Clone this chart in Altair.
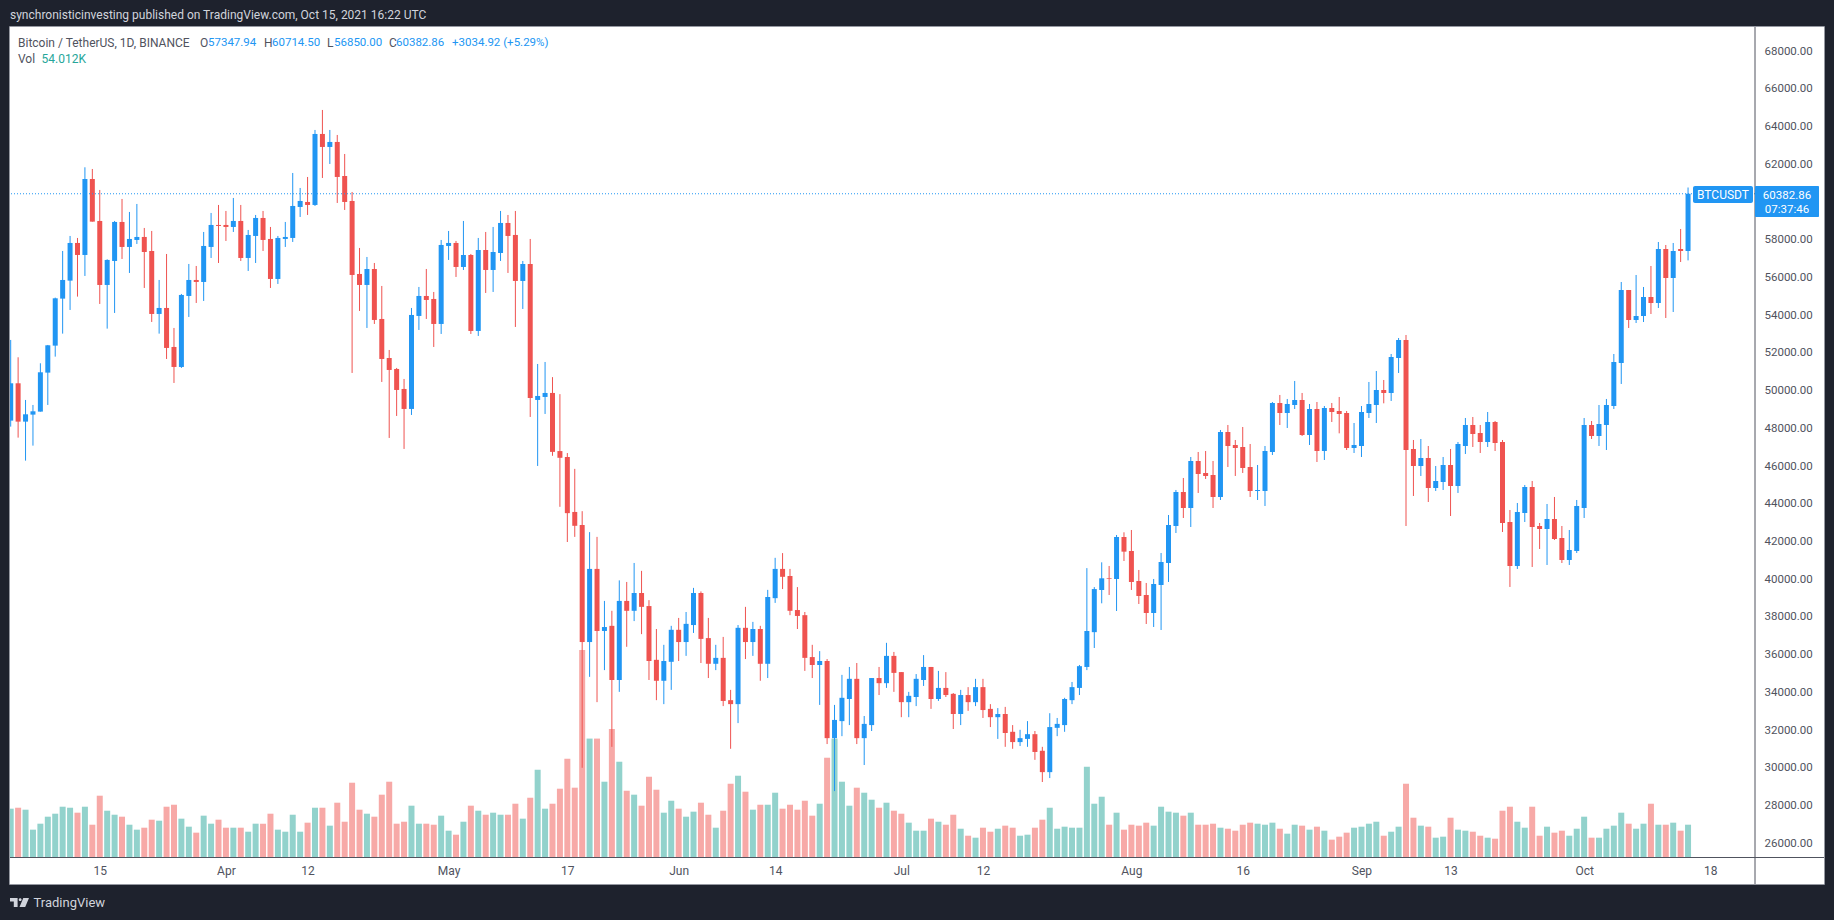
import altair as alt
import pandas as pd

open_ = [48356,50336,48303,48675,48834,50901,52332,54824,55778,57775,
57138,61167,58941,55548,56820,58888,57563,57934,58093,57350,
54011,54329,52262,51201,54965,55813,55707,57563,58729,58729,
58623,58941,56979,58146,59100,57987,55866,57987,58040,59683,
59948,59789,63553,62864,63129,61326,60001,56131,55548,56396,
53746,51678,51095,50035,48975,53905,54965,54806,53481,57616,
57775,56502,57138,53110,57403,56343,57244,58835,58199,55760,
56661,49452,49611,49824,46743,46428,43515,42823,36619,40496,
37206,37478,34607,38799,38275,39218,38526,35676,34565,35571,
37268,36619,37520,39218,36828,35466,35780,33538,33328,37373,
36619,37310,35466,38945,40496,40119,38316,38044,35822,35403,
35613,31525,32427,33600,34669,31525,32217,34711,34439,35885,
35026,33433,33705,34607,35298,33600,34187,33873,32804,33810,
33433,34229,33076,32636,32804,31861,31316,31484,31735,30855,
29723,32071,32217,33538,34187,35298,37143,39379,39997,39962,
42188,41446,39856,39114,38159,39644,40810,42771,44574,43725,
46217,45581,45475,44309,47754,47065,46959,45899,44627,44627,
46694,49291,48761,49185,49450,47595,48973,46747,49026,48867,
48761,46906,47012,48761,49185,49981,49822,51677,52631,46853,
45952,46376,44786,45104,46005,44892,47012,48125,47701,47224,
48284,47224,42983,40651,43460,44839,42771,42612,43142,42135,
40969,41446,43725,48125,47542,48125,49132,51412,55282,53691,
53903,54911,54592,57455,55918,57455,57347.94]

high = [52633,51714,49452,49187,51396,52368,54877,57350,58146,58040,
61786,61697,60584,56909,58941,60107,59418,59842,58570,58411,
55813,57191,53269,55071,56661,56555,58358,59365,59789,59471,
60160,59789,58464,59259,59471,58623,58146,58888,61485,60690,
61273,63765,64825,63765,63500,62492,60478,57510,57032,56714,
55495,52102,51149,50565,54329,55442,56396,55177,57934,58411,
57881,58941,57191,58040,58358,58623,59471,59259,59471,56820,
57987,51360,51466,50662,49761,46638,45799,43556,42446,42194,
38799,38275,39888,39805,40811,40392,38840,37310,36472,37478,
37897,38212,39490,39302,37897,36472,36891,34083,37520,38484,
37688,37478,39385,41083,41335,40496,39532,38212,36472,36137,
35717,33286,34879,35298,35508,32699,34711,35298,36577,36095,
35026,33978,34921,35927,35298,35089,35026,33915,34083,34229,
34669,34669,33328,33118,33181,32217,31966,32427,31903,31064,
32846,32594,33663,34502,35403,40538,39532,40845,40651,42294,
42436,42559,40439,39750,39962,41340,43354,44680,45316,46429,
46694,46747,46217,47860,48125,47330,48019,47118,46005,47012,
49344,49716,49504,50458,49822,49238,49344,49132,49291,49610,
48867,48231,49132,50405,50988,50511,51889,52737,52896,47330,
47383,47012,45952,46429,46853,47224,48496,48549,48125,48814,
48337,47330,43619,43990,44945,45157,42930,43937,44309,42771,
42559,44149,48496,48337,49185,49504,51889,55706,55282,56077,
55441,56554,57826,57667,57773,58515,60714.5]

low = [48038,47455,46236,47031,48834,49187,51749,52968,54223,54930,
56025,58905,54541,53233,54064,56926,56184,57722,55389,53587,
52968,51625,50353,51149,53852,54594,54700,56979,56714,57881,
58358,56820,56290,56714,57350,55389,55601,57563,57828,59153,
59259,59736,61220,61962,59895,59524,50883,54170,53269,53481,
50406,47438,48604,46855,48657,53163,53746,52262,52951,56874,
55972,56343,52951,52845,55124,55177,56820,56184,53322,54276,
48551,45953,48710,46491,43787,41922,42194,29953,34774,33433,
35131,31064,33978,36367,37730,37038,34607,33538,33328,34083,
35613,35885,37101,35508,34711,35131,33223,30960,32322,35717,
35885,34565,34711,38694,39427,38044,37310,35089,34711,33286,
31211,28717,31630,32217,31211,30100,31903,33810,34187,33978,
32636,32636,33223,34292,33076,33496,33705,32008,32217,32972,
33223,32594,32112,31484,31064,30960,31106,31064,30373,29199,
29408,31630,31861,33328,33810,35131,36304,38672,39114,38265,
40916,39379,38636,37576,37417,37258,39803,42400,43195,42718,
44521,45263,43725,44149,45899,45422,45581,44309,44149,43831,
46535,48125,47966,48973,47542,47065,46164,46270,48284,47683,
46800,46641,46429,48496,48231,49274,49397,50882,42771,44362,
45422,44043,44627,44680,43301,44521,46588,46959,46641,46959,
46747,42453,39538,40492,42983,40598,41552,40704,42029,40810,
40704,41340,43195,47383,47012,46800,48973,50299,53267,53532,
53585,54009,54327,53797,54115,56766,56850]

close = [50336,48303,48692,48851,50919,52350,54841,55813,57775,57138,
61167,58905,55548,56874,58888,57563,57987,58093,57297,54011,
54329,52209,51201,55018,55813,55707,57616,58729,58676,58623,
58941,56979,58199,59100,57934,55866,58040,58093,59736,60001,
59789,63553,62864,63129,61273,59948,56078,55548,56396,53693,
51625,51042,49982,48975,53958,54965,54753,53481,57669,57775,
56502,57138,53110,57403,56343,57297,58835,58146,55760,56661,
49558,49664,49823,46700,46386,43452,42781,36619,40496,37206,
37415,34607,38799,38275,39218,38484,35613,34565,35613,37268,
36619,37583,39218,36786,35466,35780,33496,33328,37373,36619,
37310,35466,39008,40496,40077,38275,38002,35780,35403,35613,
31525,32490,33663,34669,31525,32280,34711,34439,35885,34984,
33433,33768,34669,35298,33600,34187,33810,32804,33810,33433,
34229,33014,32636,32804,31798,31316,31525,31735,30792,29723,
32112,32280,33600,34229,35340,37206,39427,39997,39962,42188,
41411,39803,39061,38159,39697,40863,42824,44574,43725,46217,
45528,45422,44309,47754,47012,46906,45846,44627,44680,46747,
49291,48761,49238,49450,47595,48973,46747,49026,48814,48708,
46906,47065,48814,49238,49981,49822,51730,52631,46800,45952,
46376,44786,45157,46005,44892,47118,48125,47648,47224,48284,
47171,42930,40651,43513,44839,42718,42612,43142,42082,40969,
41499,43831,48125,47542,48178,49185,51465,55282,53691,53903,
54911,54592,57455,55918,57349,57348,60382.86]

volume_k = [80.8,82.4,79.1,45.7,55.7,67.4,72.4,84.1,82.4,74.1,
84.1,54.0,102.5,77.4,70.7,67.4,54.0,45.7,49.0,62.4,
60.7,84.1,87.4,64.1,50.7,40.7,69.1,55.7,62.4,49.0,
49.0,49.0,42.3,55.7,55.7,72.4,45.7,42.3,70.7,42.3,
57.4,82.4,82.4,52.4,90.8,59.0,124.2,79.1,72.4,67.4,
104.2,125.9,55.7,59.0,85.8,55.7,55.7,54.0,69.1,44.0,
37.3,59.0,85.8,77.4,70.7,74.1,70.7,70.7,89.1,64.1,
99.1,145.9,80.8,89.1,114.2,164.3,115.9,346,198,198,
125.9,214,159.3,110.8,104.2,85.8,134.2,112.5,74.1,94.1,
80.8,67.4,75.8,90.8,70.7,49.0,77.4,122.5,135.9,109.2,
79.1,87.4,87.4,107.5,80.8,87.4,79.1,94.1,69.1,89.1,
166.0,198,125.9,85.8,115.9,107.5,95.8,82.4,90.8,77.4,
72.4,57.4,44.0,44.0,64.1,59.0,54.0,70.7,47.3,35.6,
32.3,49.0,42.3,47.3,52.4,49.0,35.6,37.3,49.0,62.4,
82.4,47.3,50.7,49.0,49.0,150.9,89.1,100.8,54.0,74.1,
45.7,54.0,52.4,57.4,52.4,84.1,75.8,74.1,69.1,74.1,
54.0,54.0,55.7,49.0,47.3,44.0,54.0,57.4,55.7,54.0,
57.4,47.3,39.0,54.0,52.4,45.7,50.7,44.0,29.0,34.0,
40.7,49.0,50.7,55.7,59.0,35.6,42.3,50.7,122.5,65.7,
52.4,50.7,32.3,34.0,65.7,45.7,44.0,42.3,35.6,32.3,
30.6,77.4,84.1,59.0,49.0,84.1,35.6,50.7,40.7,44.0,
35.6,47.3,67.4,32.3,32.3,47.3,52.4,74.1,55.7,47.3,
55.7,89.1,54.0,54.0,57.4,44.0,54.012]

price_ticks = [26000,28000,30000,32000,34000,36000,38000,40000,42000,44000,46000,48000,
               50000,52000,54000,56000,58000,62000,64000,66000,68000]
time_ticks = ["2021-03-15","2021-04-01","2021-04-12","2021-05-01","2021-05-17","2021-06-01",
              "2021-06-14","2021-07-01","2021-07-12","2021-08-01","2021-08-16","2021-09-01",
              "2021-09-13","2021-10-01","2021-10-18"]
last_price = 60382.86

BLUE, RED = "#2196f3", "#ef5350"
VOL_UP, VOL_DOWN = "#92d2cc", "#f7a9a7"
BG, AXIS, TXT, TOPTXT = "#1e222d", "#50535e", "#50535e", "#d1d4dc"
FONT = "Roboto"
L, T, W, H = 10, 27, 1745, 830   # plot rectangle on the page

df = pd.DataFrame({
    "date": pd.date_range("2021-03-03", periods=len(close)).strftime("%Y-%m-%d"),
    "open": open_, "high": high, "low": low, "close": close, "vol": volume_k,
})
df["top"] = df[["open", "close"]].max(axis=1)
df["bot"] = df[["open", "close"]].min(axis=1)

x_enc = alt.X("date:T", title=None,
              scale=alt.Scale(type="utc", padding=0,
                              domain=["2021-03-02T21:45:00Z", "2021-10-24T00:30:00Z"]),
              axis=alt.Axis(values=time_ticks, domain=False, ticks=False, grid=False,
                            labelExpr="utcdate(datum.value)==1 ? utcFormat(datum.value,'%b') : utcFormat(datum.value,'%-d')",
                            labelFont=FONT, labelFontSize=12, labelColor=TXT, labelPadding=13.5,
                            labelBaseline="middle", labelOverlap=False, labelFlush=False, labelBound=False,
                            title=None, zindex=1))
price_scale = alt.Scale(domain=[25224, 69223], nice=False, zero=False)
up = "datum.close >= datum.open"

base = alt.Chart(df)
volume = base.mark_bar(size=6, clip=True).encode(
    x=x_enc,
    y=alt.Y("vol:Q", axis=None, scale=alt.Scale(domain=[0, 1387.8], nice=False)),
    color=alt.condition(up, alt.value(VOL_UP), alt.value(VOL_DOWN)),
)
wick = base.mark_rule(strokeWidth=1, clip=True).encode(
    x=x_enc,
    y=alt.Y("high:Q", axis=None, scale=price_scale),
    y2="low:Q",
    color=alt.condition(up, alt.value(BLUE), alt.value(RED)),
)
body = base.mark_bar(size=5, clip=True).encode(
    x=x_enc,
    y=alt.Y("top:Q", title=None, scale=price_scale,
            axis=alt.Axis(orient="right", values=price_ticks, format=".2f", domain=False, ticks=False, grid=False,
                          labelFont=FONT, labelFontSize=11.5, labelColor=TXT, labelPadding=9, labelOffset=1,
                          labelAlign="left", labelOverlap=False, labelFlush=False, labelBound=False, zindex=1)),
    y2="bot:Q",
    color=alt.condition(up, alt.value(BLUE), alt.value(RED)),
)
price_line = alt.Chart(pd.DataFrame({"p": [last_price]})).mark_rule(
    color=BLUE, strokeWidth=1, strokeDash=[1, 2]
).encode(y=alt.Y("p:Q", axis=None, scale=price_scale))

one = alt.Data(values=[{"a": 1}])


def box(x0, x1, y0, y1, **kw):
    return alt.Chart(one).mark_rect(**kw).encode(
        x=alt.value(x0 - L), x2=alt.value(x1 - L), y=alt.value(y0 - T), y2=alt.value(y1 - T))


def line(x0, x1, y0, y1, color, width=1):
    return alt.Chart(one).mark_rule(color=color, strokeWidth=width).encode(
        x=alt.value(x0 - L), x2=alt.value(x1 - L), y=alt.value(y0 - T), y2=alt.value(y1 - T))


def text(s, x, y, color=TXT, size=12, align="left"):
    return alt.Chart(one).mark_text(text=s, font=FONT, fontSize=size, color=color, align=align,
                                    baseline="middle").encode(x=alt.value(x - L), y=alt.value(y - T))


# TradingView logo as a real vector shape
logo = alt.Chart(one).mark_point(
    shape="M-1,-0.47 H-0.2 V0.47 H-0.6 V-0.1 H-1 Z "
          "M0.22,-0.3 A0.15,0.15 0 1 1 -0.08,-0.3 A0.15,0.15 0 1 1 0.22,-0.3 Z "
          "M0.4,-0.47 H1 L0.6,0.47 H0 Z",
    size=361, filled=True, color="#d1d4dc", opacity=1, strokeWidth=0,
).encode(x=alt.value(19.5 - L), y=alt.value(902.5 - T))

layers = [
    box(1755, 1824, 27, 884, color="white"),
    box(10, 1755, 857, 884, color="white"),
    volume, wick, body, price_line,
    line(1755, 1755, 27, 884, AXIS),
    line(10, 1824, 857.5, 857.5, AXIS),
    box(9.5, 1824.5, 26.5, 884.5, fill="transparent", stroke="#9598a1", strokeWidth=1),
    box(1693, 1753, 186, 203, color=BLUE, cornerRadius=2),
    box(1755, 1819, 186, 217, color=BLUE, cornerRadius=1),
    text("BTCUSDT", 1723, 195, "white", 12, "center"),
    text("60382.86", 1787, 195.5, "white", 11.5, "center"),
    text("07:37:46", 1787, 209.5, "white", 11.5, "center"),
    text("synchronisticinvesting published on TradingView.com, Oct 15, 2021 16:22 UTC", 10, 15, TOPTXT, 12),
    text("Bitcoin / TetherUS, 1D, BINANCE", 18, 42.5, TXT, 12),
    text("O", 200, 42.5, TXT, 12), text("57347.94", 208, 42.5, BLUE, 11.5),
    text("H", 264, 42.5, TXT, 12), text("60714.50", 272, 42.5, BLUE, 11.5),
    text("L", 327, 42.5, TXT, 12), text("56850.00", 334, 42.5, BLUE, 11.5),
    text("C", 389, 42.5, TXT, 12), text("60382.86", 396, 42.5, BLUE, 11.5),
    text("+3034.92 (+5.29%)", 452, 42.5, BLUE, 11.5),
    text("Vol", 18, 59, TXT, 12), text("54.012K", 41.5, 59, "#26a69a", 12),
    logo,
    text("TradingView", 33.5, 902.5, TOPTXT, 13),
]

chart = alt.layer(*layers).resolve_scale(y="independent").properties(
    width=W, height=H, background=BG,
    padding={"left": L, "top": T, "right": 1834 - L - W, "bottom": 920 - T - H},
    autosize=alt.AutoSizeParams(type="none", contains="content"),
).configure_view(fill="white", stroke=None)

chart.save("out.html", embed_options={
    "renderer": "svg", "actions": False,
    "defaultStyle": f"html,body{{margin:0;padding:0;background:{BG};overflow:hidden}}",
})
